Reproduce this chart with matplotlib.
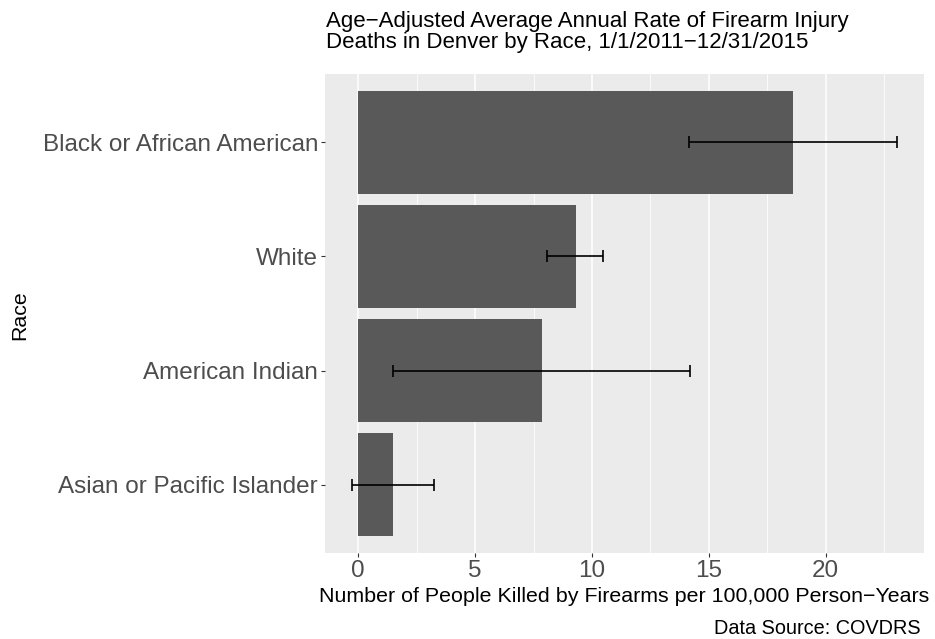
import numpy as np
import matplotlib.pyplot as plt

plt.rcParams['font.family'] = ['Liberation Sans', 'DejaVu Sans']

# data
races = ["Black or African American", "White", "American Indian", "Asian or Pacific Islander"]
rates = [18.6, 9.3, 7.85, 1.5]
ci_low = [14.15, 8.07, 1.5, -0.26]
ci_high = [23.05, 10.47, 14.2, 3.25]

title = "Age\u2212Adjusted Average Annual Rate of Firearm Injury\nDeaths in Denver by Race, 1/1/2011\u221212/31/2015"
xlab = "Number of People Killed by Firearms per 100,000 Person\u2212Years"
ylab = "Race"
caption = "Data Source: COVDRS"
xticks = [0, 5, 10, 15, 20]

fig = plt.figure(figsize=(9.35, 6.39), dpi=100)
ax = fig.add_axes([325 / 935, 1 - 553 / 639, 599 / 935, 479 / 639])
ax.set_facecolor("#EBEBEB")

ypos = np.arange(len(races))[::-1] + 1
ax.barh(ypos, rates, height=0.9, color="#595959", zorder=2)
rates_arr = np.array(rates)
err = [rates_arr - np.array(ci_low), np.array(ci_high) - rates_arr]
ax.errorbar(rates, ypos, xerr=err, fmt='none', ecolor='black', elinewidth=1.2,
            capsize=4.3, capthick=1.2, zorder=3)

# ggplot-like expansion
lo = min(0, min(ci_low))
hi = max(ci_high)
pad = (hi - lo) * 0.05
ax.set_xlim(lo - pad, hi + pad)
ax.set_ylim(0.4, len(races) + 0.6)

ax.set_xticks(xticks)
ax.set_xticks([2.5, 7.5, 12.5, 17.5, 22.5], minor=True)
ax.set_yticks(ypos)
ax.set_yticklabels(races)
ax.grid(True, axis='x', which='major', color='white', linewidth=1.1, zorder=0)
ax.grid(True, axis='x', which='minor', color='white', linewidth=0.55, zorder=0)
ax.set_axisbelow(True)
for s in ax.spines.values():
    s.set_visible(False)
ax.tick_params(axis='both', which='major', length=3, width=0.8, color='#333333',
               labelcolor='#4D4D4D', labelsize=17.5, pad=2)
ax.tick_params(axis='x', which='minor', length=0)

fig.text(624 / 935, 1 - 597 / 639, xlab, fontsize=15.4, ha='center', va='center')
fig.text(20 / 935, 1 - 315 / 639, ylab, rotation=90, fontsize=15.4,
         ha='center', va='center')
fig.text(326 / 935, 1 - 11 / 639, title, fontsize=16, ha='left', va='top',
         linespacing=1.0)
fig.text(921 / 935, 1 - 629 / 639, caption, fontsize=14.3, ha='right', va='center')

fig.savefig("out.png", dpi=100)
